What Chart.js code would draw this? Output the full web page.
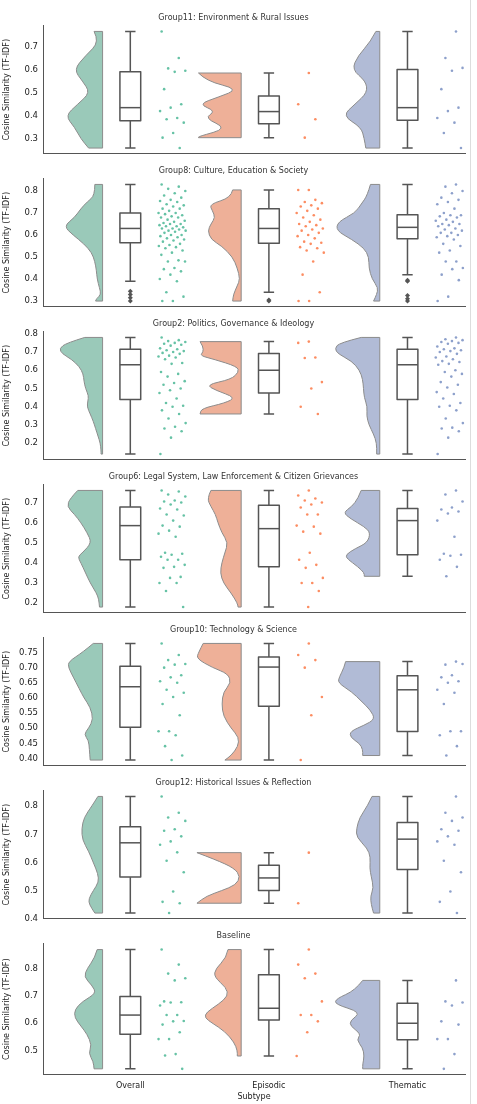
<!DOCTYPE html>
<html>
<head>
<meta charset="utf-8">
<script src="https://cdn.jsdelivr.net/npm/chart.js@4.4.1/dist/chart.umd.min.js"></script>
<style>
  body { margin: 0; background: #fff; }
  #wrap { position: relative; width: 470px; height: 1104px; border-right: 1px solid #ddd; }
  .panel { position: absolute; left: 0; width: 470px; }
</style>
</head>
<body>
<div id="wrap"></div>
<script>
const subtypes = ["Overall", "Episodic", "Thematic"];
const titles = [
  "Group11: Environment & Rural Issues",
  "Group8: Culture, Education & Society",
  "Group2: Politics, Governance & Ideology",
  "Group6: Legal System, Law Enforcement & Citizen Grievances",
  "Group10: Technology & Science",
  "Group12: Historical Issues & Reflection",
  "Baseline",
];
const dotColors = ["#66c2a5", "#fc8d62", "#8da0cb"];
const violinColors = ["#9ac9b9", "#eeb098", "#b1bbd6"];

// box stats per panel: [min, q1, median, q3, max] for Overall, Episodic, Thematic
const boxes = [
  [[.26, .378, .435, .59, .765], [.305, .365, .418, .485, .585], [.26, .38, .435, .6, .765]],
  [[.39, .565, .63, .7, .83], [.34, .563, .63, .72, .805], [.42, .583, .635, .692, .83]],
  [[.14, .44, .63, .715, .78], [.36, .475, .6, .692, .757], [.14, .44, .63, .715, .78]],
  [[.18, .415, .585, .678, .76], [.18, .38, .57, .686, .76], [.333, .44, .61, .67, .76]],
  [[.395, .503, .637, .705, .78], [.395, .573, .702, .735, .78], [.41, .489, .627, .673, .72]],
  [[.42, .548, .67, .727, .835], [.455, .5, .545, .59, .635], [.42, .575, .683, .742, .835]],
  [[.433, .56, .63, .698, .87], [.48, .612, .655, .778, .87], [.433, .54, .6, .673, .757]],
];
const outliers = [
  [[], [], []],
  [[.345, .33, .315, .3], [.305, .3], [.395, .39, .325, .31, .3]],
  [[], [], []], [[], [], []], [[], [], []], [[], [], []], [[], [], []],
];

// half-violin outlines: y levels and relative density
const violinY = [
  [[.765,.72,.66,.6,.55,.5,.45,.4,.35,.3,.26],
   [.585,.55,.515,.48,.45,.42,.39,.345,.31,.305],
   [.765,.72,.66,.6,.55,.5,.45,.4,.35,.3,.26]],
  [[.83,.78,.75,.72,.68,.64,.6,.56,.52,.48,.44,.4,.36,.33,.31,.3],
   [.805,.77,.74,.71,.68,.65,.62,.58,.55,.5,.45,.4,.37,.33,.3],
   [.83,.78,.74,.7,.66,.62,.58,.54,.5,.45,.4,.36,.33,.3]],
  [[.78,.75,.72,.69,.66,.62,.58,.54,.5,.46,.43,.4,.36,.32,.28,.24,.2,.16,.14],
   [.757,.73,.7,.68,.66,.62,.59,.55,.52,.49,.45,.42,.39,.36],
   [.78,.75,.72,.69,.65,.6,.55,.5,.45,.4,.35,.3,.25,.2,.14]],
  [[.76,.72,.68,.64,.6,.55,.5,.45,.43,.4,.35,.3,.25,.22,.18],
   [.76,.72,.68,.64,.6,.55,.5,.45,.4,.35,.3,.25,.2,.18],
   [.76,.72,.68,.65,.62,.58,.55,.5,.47,.44,.42,.38,.35,.333]],
  [[.78,.75,.72,.7,.67,.63,.6,.57,.53,.5,.48,.46,.43,.395],
   [.78,.75,.73,.7,.68,.65,.62,.58,.54,.5,.47,.44,.41,.395],
   [.72,.7,.67,.65,.62,.59,.56,.53,.51,.49,.47,.45,.43,.41]],
  [[.835,.8,.76,.72,.68,.64,.6,.56,.53,.5,.47,.45,.42],
   [.635,.61,.58,.55,.52,.5,.48,.455],
   [.835,.8,.76,.72,.69,.65,.62,.58,.55,.51,.48,.45,.42]],
  [[.87,.84,.8,.77,.74,.71,.68,.65,.62,.59,.56,.52,.49,.46,.433],
   [.87,.84,.8,.77,.73,.7,.67,.64,.62,.6,.57,.53,.5,.48],
   [.757,.72,.69,.67,.64,.61,.59,.56,.54,.51,.48,.45,.433]],
];
const violinD = [
  [[.22,.08,.44,.74,.52,.32,.64,.96,.72,.56,.36],
   [1.1,.9,.06,.6,1.1,.65,.95,.35,1.1,1.1],
   [.1,.24,.56,.72,.36,.32,.64,.96,.48,.4,.36]],
  [[.2,.2,.4,.56,.72,1.0,.76,.48,.28,.2,.16,.14,.08,.04,.16,.18],
   [.22,.26,.82,.74,.67,.78,.86,.78,.5,.22,.1,.03,.1,.2,.22],
   [.24,.32,.48,.64,1.08,1.12,.72,.4,.28,.28,.2,.04,.08,.16]],
  [[.46,.92,1.12,1.04,.8,.6,.5,.48,.44,.36,.38,.4,.32,.24,.18,.12,.06,.04,.04],
   [1.06,.98,.98,1.06,.7,.1,.06,.26,.9,.66,.14,.42,1.02,1.06],
   [.48,1.04,1.16,1.08,.72,.52,.44,.42,.4,.32,.34,.28,.16,.08,.08]],
  [[.64,.84,.92,.72,.56,.4,.28,.52,.64,.56,.44,.32,.16,.1,.08],
   [.78,.88,.78,.66,.6,.5,.34,.42,.5,.54,.46,.26,.1,.08],
   [.48,.56,.72,.94,.76,.4,.24,.32,.64,.88,.84,.56,.4,.4]],
  [[.24,.52,.88,.88,.76,.6,.48,.32,.24,.36,.48,.36,.34,.32],
   [.98,1.1,1.15,.74,.34,.26,.46,.5,.46,.26,.06,.08,.26,.42],
   [.88,.92,1.04,1.08,.72,.48,.24,.12,.4,.76,.76,.52,.44,.44]],
  [[.12,.28,.48,.54,.52,.36,.24,.12,.1,.24,.36,.34,.2],
   [1.14,.66,.18,.02,.14,.5,.9,1.14],
   [.2,.32,.52,.6,.6,.32,.24,.26,.22,.16,.24,.22,.16]],
  [[.14,.2,.4,.48,.28,.16,.52,.72,.72,.56,.4,.28,.36,.24,.22],
   [.34,.38,.66,.7,.38,.34,.58,.9,.94,.74,.42,.18,.1,.1],
   [.44,.64,1.12,1.16,.48,.76,.76,.48,.6,.44,.4,.44,.44]],
];

// raw points for the strip ("rain")
const points = [
  [[.765,.65,.605,.595,.59,.515,.45,.435,.42,.39,.385,.37,.325,.305,.26],
   [.585,.45,.385,.305],
   [.765,.65,.607,.595,.515,.435,.42,.39,.37,.325,.26]],
  [[.83,.82,.81,.8,.79,.78,.77,.76,.755,.75,.74,.735,.73,.72,.72,.71,.7,.7,.695,.69,.685,.68,.68,.67,.665,.66,.655,.65,.65,.645,.64,.64,.635,.63,.63,.625,.62,.62,.615,.61,.6,.6,.595,.59,.585,.58,.575,.57,.56,.555,.55,.545,.54,.53,.52,.51,.485,.48,.48,.45,.445,.435,.42,.4,.39,.34,.32,.3,.3],
   [.805,.805,.76,.75,.745,.735,.73,.72,.71,.7,.69,.68,.67,.66,.65,.645,.64,.63,.625,.62,.61,.6,.595,.585,.57,.565,.56,.545,.54,.53,.52,.48,.42,.34,.3,.3],
   [.83,.82,.8,.79,.77,.76,.75,.74,.72,.7,.69,.69,.685,.68,.67,.665,.66,.65,.65,.645,.64,.63,.625,.62,.61,.61,.6,.595,.59,.58,.56,.55,.53,.52,.48,.48,.45,.445,.42,.395,.32,.3]],
  [[.78,.765,.76,.755,.75,.745,.74,.735,.72,.715,.71,.705,.7,.695,.69,.68,.675,.67,.66,.64,.635,.59,.58,.565,.54,.53,.52,.5,.49,.475,.445,.42,.405,.4,.38,.36,.335,.31,.29,.28,.265,.23,.14],
   [.757,.75,.67,.667,.535,.5,.4,.36],
   [.78,.77,.765,.76,.755,.75,.745,.73,.72,.715,.71,.705,.7,.69,.675,.67,.66,.65,.645,.635,.63,.6,.59,.58,.565,.535,.52,.505,.48,.47,.445,.42,.405,.4,.38,.335,.31,.285,.28,.265,.23,.14]],
  [[.76,.755,.74,.73,.71,.705,.7,.69,.67,.665,.64,.635,.61,.585,.58,.56,.545,.53,.45,.445,.44,.43,.415,.415,.39,.38,.375,.33,.325,.3,.3,.26,.18],
   [.76,.735,.72,.71,.7,.69,.675,.64,.64,.585,.58,.555,.545,.45,.415,.39,.375,.325,.3,.3,.26,.18],
   [.76,.74,.705,.675,.665,.655,.645,.61,.53,.445,.44,.435,.415,.38,.333]],
  [[.78,.742,.725,.712,.71,.7,.675,.668,.655,.65,.627,.617,.603,.58,.543,.49,.49,.477,.441,.41,.395],
   [.78,.742,.725,.7,.603,.543,.395],
   [.72,.71,.712,.675,.668,.655,.65,.627,.617,.58,.49,.49,.477,.441,.41]],
  [[.835,.777,.76,.748,.718,.713,.693,.675,.663,.636,.606,.565,.497,.46,.455,.42],
   [.635,.455],
   [.835,.777,.76,.748,.718,.713,.693,.675,.663,.606,.565,.497,.46,.42]],
  [[.87,.815,.782,.765,.757,.68,.677,.676,.665,.63,.63,.608,.607,.595,.567,.542,.542,.487,.482,.433],
   [.87,.815,.782,.765,.68,.63,.63,.607,.567,.48],
   [.757,.68,.676,.665,.607,.595,.542,.542,.487,.433]],
];

const tickSteps = [0.1, 0.1, 0.1, 0.1, 0.05, 0.1, 0.1];
const VIOLIN_EDGE = 0.2, VIOLIN_MAX = 0.28, BOX_HALF = 0.075;

const frac = (v) => v - Math.floor(v);

const rainCloud = {
  id: "rainCloud",
  beforeDatasetsDraw(chart) {
    const p = chart.options.plugins.rainCloud.panel;
    const { ctx, scales: { x, y } } = chart;
    ctx.save();
    subtypes.forEach((_, g) => {
      // half violin, smoothed through midpoints
      const ys = violinY[p][g], ds = violinD[p][g];
      const edge = x.getPixelForValue(g - VIOLIN_EDGE);
      const pts = ys.map((v, i) => [x.getPixelForValue(g - VIOLIN_EDGE - ds[i] * VIOLIN_MAX), y.getPixelForValue(v)]);
      ctx.beginPath();
      ctx.moveTo(edge, pts[0][1]);
      ctx.lineTo(pts[0][0], pts[0][1]);
      for (let i = 1; i < pts.length - 1; i++) {
        const mx = (pts[i][0] + pts[i + 1][0]) / 2, my = (pts[i][1] + pts[i + 1][1]) / 2;
        ctx.quadraticCurveTo(pts[i][0], pts[i][1], mx, my);
      }
      const lastPt = pts[pts.length - 1];
      ctx.lineTo(lastPt[0], lastPt[1]);
      ctx.lineTo(edge, lastPt[1]);
      ctx.closePath();
      ctx.fillStyle = violinColors[g];
      ctx.fill();
      ctx.strokeStyle = "#8c8c8c";
      ctx.lineWidth = 1;
      ctx.lineJoin = "round";
      ctx.stroke();

      // box
      const [mn, q1, med, q3, mx] = boxes[p][g];
      const cx = x.getPixelForValue(g);
      const l = x.getPixelForValue(g - BOX_HALF), r = x.getPixelForValue(g + BOX_HALF);
      const cl = x.getPixelForValue(g - BOX_HALF / 2), cr = x.getPixelForValue(g + BOX_HALF / 2);
      ctx.strokeStyle = "#555";
      ctx.lineWidth = 1.5;
      ctx.beginPath();
      ctx.moveTo(cx, y.getPixelForValue(mx)); ctx.lineTo(cx, y.getPixelForValue(q3));
      ctx.moveTo(cx, y.getPixelForValue(q1)); ctx.lineTo(cx, y.getPixelForValue(mn));
      ctx.moveTo(cl, y.getPixelForValue(mx)); ctx.lineTo(cr, y.getPixelForValue(mx));
      ctx.moveTo(cl, y.getPixelForValue(mn)); ctx.lineTo(cr, y.getPixelForValue(mn));
      ctx.stroke();
      ctx.fillStyle = "#fff";
      const top = y.getPixelForValue(q3), bot = y.getPixelForValue(q1);
      ctx.fillRect(l, top, r - l, bot - top);
      ctx.strokeRect(l, top, r - l, bot - top);
      ctx.beginPath();
      ctx.moveTo(l, y.getPixelForValue(med)); ctx.lineTo(r, y.getPixelForValue(med));
      ctx.stroke();
    });
    ctx.restore();
  },
};

const wrap = document.getElementById("wrap");
const panelTop = (i) => 1 + 153 * i;

titles.forEach((title, p) => {
  const last = p === titles.length - 1;
  const div = document.createElement("div");
  div.className = "panel";
  div.style.top = panelTop(p) + "px";
  const h = last ? 1102 - panelTop(p) : 160;
  div.style.height = h + "px";
  const canvas = document.createElement("canvas");
  div.appendChild(canvas);
  wrap.appendChild(div);

  const all = boxes[p].flat().concat(outliers[p].flat());
  const lo = Math.min(...all), hi = Math.max(...all), pad = (hi - lo) * 0.05;
  const step = tickSteps[p];

  const datasets = [];
  subtypes.forEach((_, g) => {
    datasets.push({
      type: "scatter",
      data: points[p][g].map((v, i) => ({ x: g + 0.2 + 0.2 * frac(i * 0.618 + 0.31 * g + 0.13), y: v })),
      backgroundColor: dotColors[g],
      borderWidth: 0,
      pointRadius: 1.3,
    });
    datasets.push({
      type: "scatter",
      data: outliers[p][g].map((v) => ({ x: g, y: v })),
      backgroundColor: "#555",
      borderWidth: 0,
      pointStyle: "rectRot",
      pointRadius: 2.5,
    });
  });

  new Chart(canvas, {
    type: "scatter",
    data: { datasets },
    plugins: [rainCloud],
    options: {
      animation: false,
      responsive: true,
      maintainAspectRatio: false,
      layout: { padding: { left: 2, right: 5, top: 0, bottom: 0 } },
      plugins: {
        legend: { display: false },
        tooltip: { enabled: false },
        rainCloud: { panel: p },
        title: {
          display: true,
          text: title,
          color: "#333",
          font: { family: "DejaVu Sans", size: 8, weight: "normal" },
          padding: { top: 12, bottom: 3 },
        },
      },
      scales: {
        x: {
          type: "linear",
          min: -0.63,
          max: 2.415,
          grid: { display: false, drawTicks: true, tickLength: 4, tickColor: "#555" },
          border: { color: "#555", width: 1 },
          afterBuildTicks: (s) => { s.ticks = [0, 1, 2].map((v) => ({ value: v })); },
          ticks: {
            display: last,
            color: "#222",
            font: { family: "DejaVu Sans", size: 8 },
            padding: 2,
            callback: (v) => subtypes[v],
          },
          title: {
            display: last,
            text: "Subtype",
            color: "#222",
            font: { family: "DejaVu Sans", size: 8 },
            padding: 0,
          },
        },
        y: {
          min: lo - pad,
          max: hi + pad,
          afterFit: (s) => { s.width = 41; },
          afterBuildTicks: (s) => {
            const t = [];
            for (let k = Math.ceil((s.min - 1e-9) / step); k * step <= s.max + 1e-9; k++) t.push({ value: +(k * step).toFixed(3) });
            s.ticks = t;
          },
          grid: { display: false, drawTicks: true, tickLength: 3, tickColor: "#555" },
          border: { color: "#555", width: 1 },
          ticks: {
            color: "#222",
            font: { family: "DejaVu Sans", size: 8.5 },
            padding: 2,
            callback: (v) => step < 0.1 ? v.toFixed(2) : v.toFixed(1),
          },
          title: {
            display: true,
            text: "Cosine Similarity (TF-IDF)",
            color: "#222",
            font: { family: "DejaVu Sans", size: 8 },
            padding: 0,
          },
        },
      },
    },
  });
});
</script>
</body>
</html>
